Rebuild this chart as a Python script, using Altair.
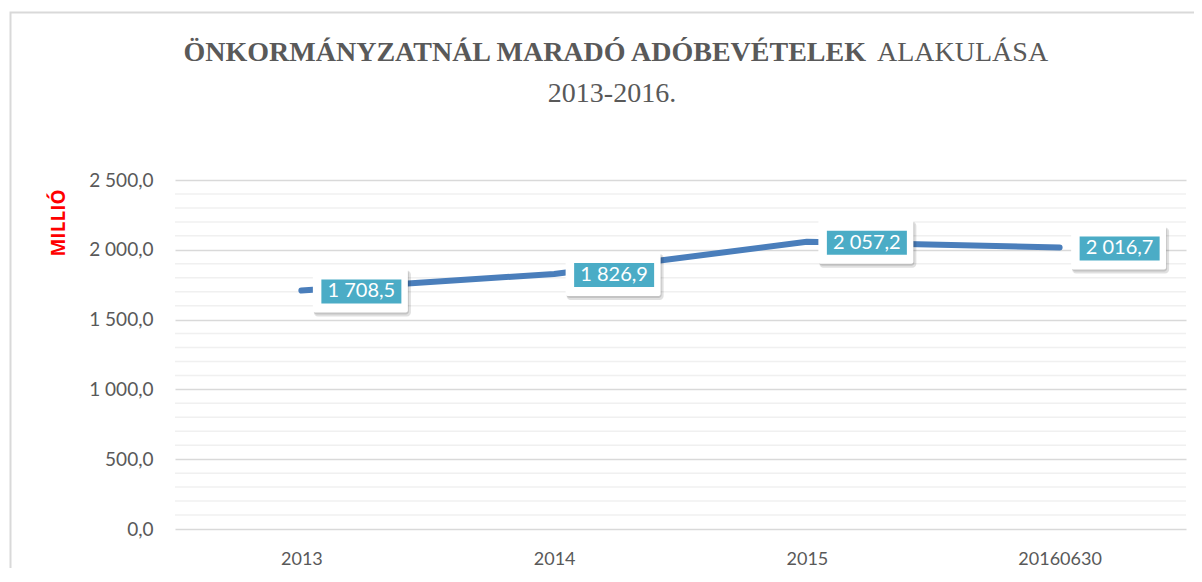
import altair as alt
import pandas as pd

CATEGORIES = ["2013", "2014", "2015", "20160630"]
VALUES = [1708.5, 1826.9, 2057.2, 2016.7]
LABELS = ["1 708,5", "1 826,9", "2 057,2", "2 016,7"]
Y_TICKS = [0, 500, 1000, 1500, 2000, 2500]
MINOR_GRID = [v for v in range(0, 2501, 100) if v % 500 != 0]

TITLE_BOLD = "ÖNKORMÁNYZATNÁL MARADÓ ADÓBEVÉTELEK"
TITLE_NORMAL = "ALAKULÁSA"
TITLE_LINE2 = "2013-2016."
Y_TITLE = "MILLIÓ"

df = pd.DataFrame({"cat": CATEGORIES, "val": VALUES, "label": LABELS})
grid_df = pd.DataFrame({"g": MINOR_GRID})
one = pd.DataFrame({"a": [0]})

W, H = 1011, 349
FONT = "Lato"
GREY = "#595959"

xenc = alt.X("cat:N", sort=CATEGORIES,
             scale=alt.Scale(type="point", padding=0.5),
             axis=alt.Axis(title=None, labelAngle=0, domain=False, ticks=False,
                           labelPadding=21, labelFontSize=18, labelColor=GREY,
                           labelFont=FONT, grid=False))
yscale = alt.Scale(domain=[0, 2500], nice=False)
yenc = alt.Y("val:Q", scale=yscale,
             axis=alt.Axis(title=None, values=Y_TICKS, domain=False, ticks=False,
                           labelPadding=22, labelFontSize=19, labelColor=GREY,
                           labelFont=FONT, gridColor="#d9d9d9", gridWidth=1.5,
                           labelExpr="replace(replace(format(datum.value, ',.1f'), ',', ' '), '.', ',')"))

frame = alt.Chart(one).mark_rect(fill=None, stroke="#d9d9d9", strokeWidth=2).encode(
    x=alt.value(-164.5), x2=alt.value(1100), y=alt.value(-167.5), y2=alt.value(600))

minor = alt.Chart(grid_df).mark_rule(color="#f0f0f0", strokeWidth=1.5).encode(
    y=alt.Y("g:Q", scale=yscale))

line = alt.Chart(df).mark_line(color="#4a7ebb", strokeWidth=6, strokeCap="round",
                               strokeJoin="round").encode(x=xenc, y=yenc)

base = alt.Chart(df).encode(x=alt.X("cat:N", sort=CATEGORIES), y=alt.Y("val:Q"))
shadow = base.mark_rect(width=97, height=46, xOffset=61, yOffset=3,
                        color="#000000", opacity=0.12, cornerRadius=4)
shadow2 = base.mark_rect(width=95, height=44, xOffset=60, yOffset=2,
                         color="#000000", opacity=0.12, cornerRadius=3)
white = base.mark_rect(width=95, height=44, xOffset=59, yOffset=0,
                       color="#ffffff", cornerRadius=2)
teal = base.mark_rect(width=80, height=24, xOffset=60, yOffset=1, color="#4bacc6")
txt = base.mark_text(font=FONT, fontSize=20, color="#ffffff", dx=60, dy=1,
                     baseline="middle", align="center").encode(text="label:N")

t_bold = alt.Chart(one).mark_text(text=TITLE_BOLD, font="Liberation Serif", fontSize=28,
                                  fontWeight="bold", color=GREY, align="right",
                                  baseline="alphabetic").encode(
    x=alt.value(866 - 175), y=alt.value(61 - 180))
t_norm = alt.Chart(one).mark_text(text=TITLE_NORMAL, font="Liberation Serif", fontSize=28,
                                  color=GREY, align="left", baseline="alphabetic").encode(
    x=alt.value(877 - 175), y=alt.value(61 - 180))
t_2 = alt.Chart(one).mark_text(text=TITLE_LINE2, font="Liberation Serif", fontSize=28,
                               color=GREY, align="center", baseline="alphabetic").encode(
    x=alt.value(612 - 175), y=alt.value(102 - 180))
y_title = alt.Chart(one).mark_text(text=Y_TITLE, font="Open Sans", fontSize=19,
                                   fontWeight="bold", color="#ff0000", angle=270,
                                   align="center", baseline="middle").encode(
    x=alt.value(59 - 175), y=alt.value(223 - 180))

chart = alt.layer(frame, minor, line, shadow, shadow2, white, teal, txt,
                  t_bold, t_norm, t_2, y_title).properties(
    width=W, height=H,
    background="#ffffff",
    autosize=alt.AutoSizeParams(type="none"),
    padding={"left": 167, "top": 172, "right": 8, "bottom": 39},
).configure_view(stroke=None, strokeWidth=0)

chart.save("out.html", embed_options={"renderer": "svg", "actions": False})
